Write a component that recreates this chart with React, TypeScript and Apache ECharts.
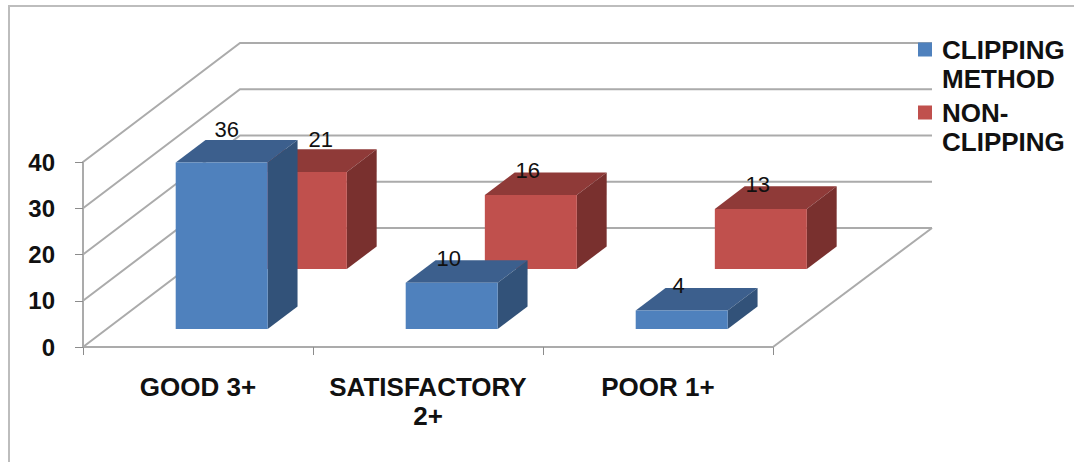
import React, { useEffect, useRef } from "react";
import * as echarts from "echarts";

const categories = ["GOOD 3+", "SATISFACTORY\n2+", "POOR 1+"];
const clippingValues = [36, 10, 4];
const nonClippingValues = [21, 16, 13];
const yTicks = [0, 10, 20, 30, 40];

const clippingName = "CLIPPING\nMETHOD";
const nonClippingName = "NON-\nCLIPPING";

// Oblique projection of the chart's depth axis, in pixels.
const DEPTH_X = 157;
const DEPTH_Y = -119;
const WALL_RIGHT_EXTRA = 2;

const BAR_WIDTH_RATIO = 0.4;
const BAR_THICKNESS = 0.19;
const CLIPPING_DEPTH = 0.151;
const NON_CLIPPING_DEPTH = 0.655;

const GRID_COLOR = "#ABABAB";
const FONT = "'Liberation Sans', Arial, sans-serif";

// Hand-placed value labels: offset from the default spot above the bar.
const clippingLabelShift = [[8, -8], [0, 0], [0, 0]];
const nonClippingLabelShift = [[23, -8], [0, 0], [0, 0]];

const renderWall = (params: any, api: any) => {
  const rect = params.coordSys;
  const y = api.coord([0, api.value(1)])[1];
  const left = rect.x;
  const right = rect.x + rect.width;
  const lineStyle = { stroke: GRID_COLOR, lineWidth: 2, fill: "none" };
  const children: any[] = [
    {
      type: "polyline",
      shape: {
        points: [
          [left, y],
          [left + DEPTH_X, y + DEPTH_Y],
          [right + DEPTH_X + WALL_RIGHT_EXTRA, y + DEPTH_Y],
        ],
      },
      style: lineStyle,
    },
  ];
  if (api.value(1) === 0) {
    children.push({
      type: "line",
      shape: {
        x1: right,
        y1: y,
        x2: right + DEPTH_X + WALL_RIGHT_EXTRA,
        y2: y + DEPTH_Y,
      },
      style: lineStyle,
    });
  }
  return { type: "group", children };
};

const barRenderer =
  (
    depth: number,
    front: string,
    top: string,
    side: string,
    labelShift: number[][]
  ) =>
  (_params: any, api: any) => {
    const index = api.value(0);
    const value = api.value(1);
    const [cx, y0] = api.coord([index, 0]);
    const yTop = api.coord([index, value])[1];
    const half = (api.size([1, 0])[0] * BAR_WIDTH_RATIO) / 2;

    const ox = DEPTH_X * depth;
    const oy = DEPTH_Y * depth;
    const tx = DEPTH_X * BAR_THICKNESS;
    const ty = DEPTH_Y * BAR_THICKNESS;

    const l = cx - half + ox;
    const r = cx + half + ox;
    const b = y0 + oy;
    const t = yTop + oy;
    const [sx, sy] = labelShift[index];

    return {
      type: "group",
      children: [
        {
          type: "polygon",
          shape: { points: [[l, t], [r, t], [r + tx, t + ty], [l + tx, t + ty]] },
          style: { fill: top },
        },
        {
          type: "polygon",
          shape: { points: [[r, t], [r + tx, t + ty], [r + tx, b + ty], [r, b]] },
          style: { fill: side },
        },
        {
          type: "rect",
          shape: { x: l, y: t, width: r - l, height: b - t },
          style: { fill: front },
        },
        {
          type: "text",
          x: (l + r) / 2 - 3 + sx,
          y: t + ty - 2 + sy,
          style: {
            text: String(value),
            fontSize: 22,
            fontFamily: FONT,
            fill: "#111111",
            align: "center",
            verticalAlign: "middle",
          },
        },
      ],
    };
  };

// Square swatch at the top of a two-line legend entry; the tiny second subpath stretches the icon box.
const SWATCH = "path://M0 0H14V14H0Z M0 43L0.01 43";

export default function App() {
  const ref = useRef<HTMLDivElement>(null);

  useEffect(() => {
    const chart = echarts.init(ref.current!, undefined, { renderer: "svg" });
    chart.setOption({
      animation: false,
      backgroundColor: "#ffffff",
      grid: { left: 83, top: 162, width: 690, height: 185, containLabel: false },
      xAxis: {
        type: "category",
        data: categories,
        axisLine: { show: true, lineStyle: { color: GRID_COLOR, width: 2 } },
        axisTick: { show: true, length: 8, lineStyle: { color: "#8C8C8C", width: 1 } },
        axisLabel: {
          interval: 0,
          margin: 25,
          fontSize: 26,
          lineHeight: 29,
          fontWeight: "bold",
          fontFamily: FONT,
          color: "#111111",
        },
      },
      yAxis: {
        type: "value",
        min: 0,
        max: 40,
        interval: 10,
        splitLine: { show: false },
        axisLine: { show: true, lineStyle: { color: GRID_COLOR, width: 2 } },
        axisTick: { show: true, length: 8, lineStyle: { color: "#8C8C8C", width: 1 } },
        axisLabel: {
          margin: 28,
          fontSize: 24,
          fontWeight: "bold",
          fontFamily: FONT,
          color: "#111111",
          padding: [4, 0, 0, 0],
        },
      },
      legend: {
        orient: "vertical",
        left: 918,
        top: 35,
        padding: 0,
        itemWidth: 14,
        itemHeight: 43,
        itemGap: 5,
        selectedMode: false,
        icon: SWATCH,
        textStyle: {
          fontSize: 26,
          lineHeight: 29,
          fontWeight: "bold",
          fontFamily: FONT,
          color: "#111111",
          padding: [0, 0, 0, 5],
        },
        data: [clippingName, nonClippingName],
      },
      graphic: [
        {
          type: "polyline",
          silent: true,
          shape: { points: [[9, 470], [9, 6], [1080, 6]] },
          style: { stroke: "#BDBDBD", lineWidth: 2, fill: "none" },
        },
      ],
      series: [
        {
          type: "custom",
          name: "wall",
          silent: true,
          renderItem: renderWall,
          data: yTicks.map((t) => [0, t]),
        },
        {
          type: "custom",
          name: nonClippingName,
          itemStyle: { color: "#C0504D" },
          renderItem: barRenderer(
            NON_CLIPPING_DEPTH,
            "#C0504D",
            "#8F3A38",
            "#79302E",
            nonClippingLabelShift
          ),
          data: nonClippingValues.map((v, i) => [i, v]),
        },
        {
          type: "custom",
          name: clippingName,
          itemStyle: { color: "#4F81BD" },
          renderItem: barRenderer(
            CLIPPING_DEPTH,
            "#4F81BD",
            "#3C5F8D",
            "#325279",
            clippingLabelShift
          ),
          data: clippingValues.map((v, i) => [i, v]),
        },
      ],
    });
    return () => chart.dispose();
  }, []);

  return (
    <div
      ref={ref}
      style={{ position: "absolute", left: 0, top: 0, width: 1074, height: 462, background: "#fff" }}
    />
  );
}
